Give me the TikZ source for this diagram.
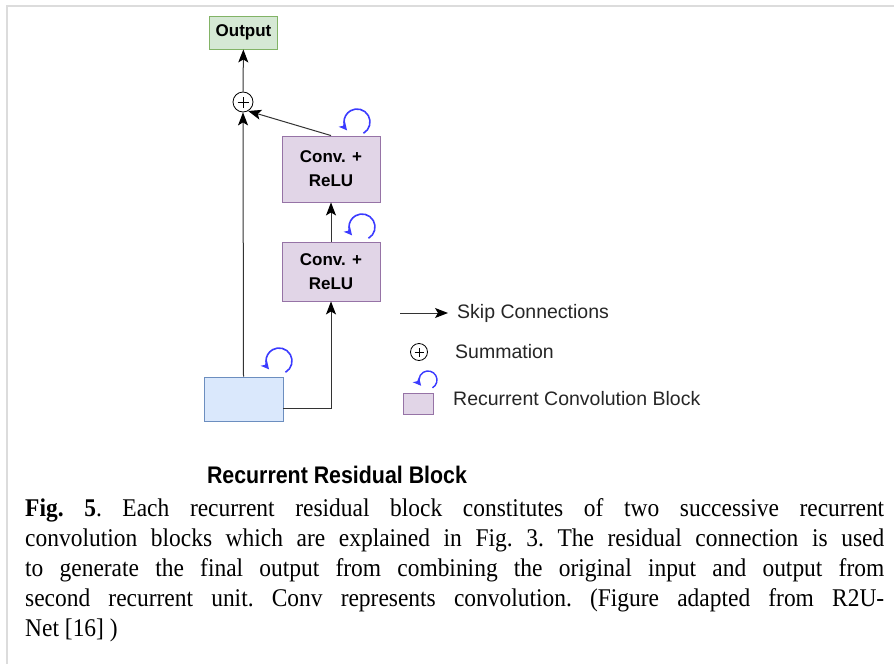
\documentclass[tikz,border=0pt]{standalone}
\usepackage{fontspec}
\setmainfont{Liberation Serif}
\newfontfamily\arial{Liberation Sans}
\newfontfamily\capfont[FakeStretch=0.92]{Liberation Serif}
\usetikzlibrary{arrows.meta}
\definecolor{grnfill}{HTML}{D5E8D4}
\definecolor{grndraw}{HTML}{82B366}
\definecolor{purfill}{HTML}{E1D5E7}
\definecolor{purdraw}{HTML}{9673A6}
\definecolor{blufill}{HTML}{DAE8FC}
\definecolor{bludraw}{HTML}{6C8EBF}
\definecolor{loopblue}{HTML}{3B3BFF}
\definecolor{frame}{HTML}{DCDCDC}
\tikzset{
  box/.style={draw, line width=0.9pt, inner sep=0pt, align=center},
  greenbox/.style={box, fill=grnfill, draw=grndraw, font=\arial\bfseries\fontsize{17}{20}\selectfont},
  convbox/.style={box, fill=purfill, draw=purdraw, font=\arial\bfseries\fontsize{17}{24}\selectfont},
  inbox/.style={box, fill=blufill, draw=bludraw},
  sumnode/.style={circle, draw, line width=0.8pt, inner sep=0pt, fill=white},
  blacktip/.tip={Stealth[length=13pt,width=10pt,inset=3pt,color=black]},
  bluetip/.tip={Stealth[length=8pt,width=8pt,inset=2pt]},
  arr/.style={draw=black!80, line width=1pt, arrows={-blacktip}},
  rloop/.style={draw=loopblue, line width=1.6pt, arrows={-bluetip}},
  legtext/.style={anchor=west, inner sep=0pt, text=black!85, font=\arial\fontsize{19.5}{22}\selectfont},
}
\begin{document}
\begin{tikzpicture}[x=1pt,y=1pt]
\useasboundingbox (0,0) rectangle (894,-664);
\fill[white] (0,0) rectangle (894,-664);
% frame
\draw[frame, line width=2pt] (6,-5.5) -- (894,-5.5);
\draw[frame, line width=2pt] (7,-5) -- (7,-664);

% nodes
\node[greenbox, minimum width=68pt, minimum height=33pt] (out) at (243.5,-32.5) {Output};
\node[sumnode, minimum size=20pt] (sum) at (243,-102) {};
\draw[line width=0.8pt] ([xshift=-5.5pt]sum.center) -- ([xshift=5.5pt]sum.center)
      ([yshift=-5.5pt]sum.center) -- ([yshift=5.5pt]sum.center);
\node[convbox, minimum width=98pt, minimum height=66pt] (c1) at (331,-169) {Conv. +\\ReLU};
\node[convbox, minimum width=98pt, minimum height=59pt] (c2) at (331,-271.5) {Conv. +\\ReLU};
\node[inbox, minimum width=79pt, minimum height=44pt] (inp) at (243.5,-399) {};

% connectors
\draw[arr] (sum) -- (out);
\draw[arr] (inp.north) -- (sum.south);
\draw[arr] (c2.north) -- (c1.south);
\draw[arr] (c1.north) -- (sum.-60);
\draw[arr] ([yshift=-9pt]inp.east) -| (c2.south);

% recurrent loops
\draw[rloop] (357,-122) ++(-60:13) arc[start angle=-60, end angle=220, radius=13];
\draw[rloop] (362,-227) ++(-60:13) arc[start angle=-60, end angle=220, radius=13];
\draw[rloop] (279,-361) ++(-60:13) arc[start angle=-60, end angle=220, radius=13];

% legend
\coordinate (la1) at (400,-313);
\coordinate (la2) at (448,-313);
\draw[arr] (la1) -- (la2);
\node[legtext] (lskip) at (457,-313) {Skip Connections};
\node[sumnode, minimum size=17pt] (lsum) at (419,-352) {};
\draw[line width=0.7pt] ([xshift=-4.5pt]lsum.center) -- ([xshift=4.5pt]lsum.center)
      ([yshift=-4.5pt]lsum.center) -- ([yshift=4.5pt]lsum.center);
\node[legtext] (lsumt) at (455,-352) {Summation};
\node[box, fill=purfill, draw=purdraw, minimum width=30pt, minimum height=21pt] (lbox) at (418,-403.5) {};
\draw[rloop, line width=1.4pt] (428,-380) ++(-60:9) arc[start angle=-60, end angle=220, radius=9];
\node[legtext] (lrcb) at (453,-399) {Recurrent Convolution Block};

% title
\node[inner sep=0pt, font=\arial\bfseries\fontsize{24}{26}\selectfont] (title) at (337,-475) {\scalebox{0.89}[1]{Recurrent Residual Block}};

% caption
\node[anchor=north west, inner sep=0pt, text width=859pt, align=justify,
      font=\capfont\fontsize{25.5}{30}\selectfont] (cap) at (25,-498)
{\frenchspacing\tolerance=9999\hyphenpenalty=10000\emergencystretch=20pt
\textbf{Fig. 5}. Each recurrent residual block constitutes of two successive recurrent\linebreak
convolution blocks which are explained in Fig. 3. The residual connection is used\linebreak
to generate the final output from combining the original input and output from\linebreak
second recurrent unit. Conv represents convolution. (Figure adapted from R2U-\linebreak
Net [16] )};
\end{tikzpicture}
\end{document}
